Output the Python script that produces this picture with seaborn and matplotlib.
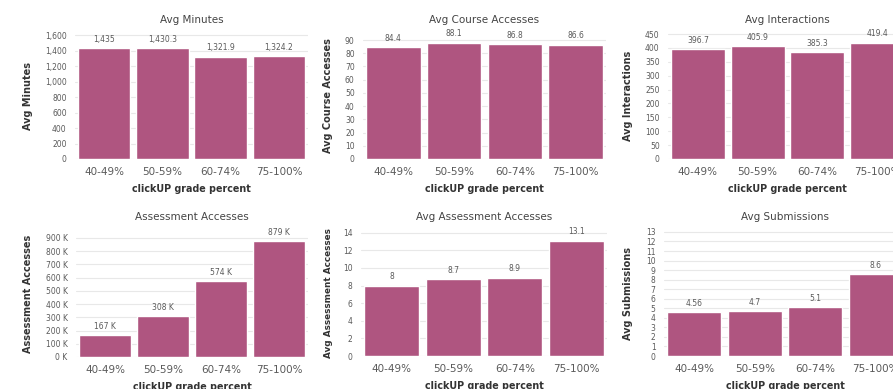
import matplotlib
matplotlib.use("Agg")
import matplotlib.pyplot as plt
import matplotlib.ticker as mticker
import numpy as np
import pandas as pd
import seaborn as sns

# Grade bands and the six engagement measures per band
grade_bands = ["40-49%", "50-59%", "60-74%", "75-100%"]
avg_minutes = [1435, 1430.3, 1321.9, 1324.2]
avg_course_accesses = [84.4, 88.1, 86.8, 86.6]
avg_interactions = [396.7, 405.9, 385.3, 419.4]
assessment_accesses = [167000, 308000, 574000, 879000]
avg_assessment_accesses = [8, 8.7, 8.9, 13.1]
avg_submissions = [4.56, 4.7, 5.1, 8.6]

sns.set_theme(style="white")
plt.rcParams["font.family"] = ["DejaVu Sans"]

BAR = "#AF5580"
TXT = "#5a5a5a"
GRID = "#e8e8e8"

W, H = 893, 389
fig = plt.figure(figsize=(W / 100, H / 100), dpi=100)
fig.patch.set_facecolor("white")


def num_label(v):
    return f"{v:,.2f}".rstrip("0").rstrip(".")


def k_label(v):
    return f"{v / 1000:.0f} K"


panels = [
    # title, values, ylabel, ticks, ymax, label fmt, tick fmt, box (l, t, r, b), ylabel x, ylabel size
    ("Avg Minutes", avg_minutes, "Avg Minutes", np.arange(0, 1601, 200), 1626,
     num_label, lambda v, p: f"{v:,.0f}", (75, 33, 308, 159), 33, 7.0),
    ("Avg Course Accesses", avg_course_accesses, "Avg Course Accesses", np.arange(0, 91, 10), 95.3,
     num_label, lambda v, p: f"{v:.0f}", (363, 33, 606, 159), 333, 7.0),
    ("Avg Interactions", avg_interactions, "Avg Interactions", np.arange(0, 451, 50), 453.6,
     num_label, lambda v, p: f"{v:.0f}", (668, 33, 907, 159), 633, 7.0),
    ("Assessment Accesses", assessment_accesses, "Assessment Accesses", np.arange(0, 900001, 100000), 960000,
     k_label, lambda v, p: f"{v / 1000:.0f} K", (76, 230, 308, 357), 33, 7.0),
    ("Avg Assessment Accesses", avg_assessment_accesses, "Avg Assessment Accesses", np.arange(0, 15, 2), 14.3,
     num_label, lambda v, p: f"{v:.0f}", (361, 230, 607, 356), 333, 6.4),
    ("Avg Submissions", avg_submissions, "Avg Submissions", np.arange(0, 14, 1), 13.2,
     num_label, lambda v, p: f"{v:.0f}", (664, 230, 906, 356), 633, 7.0),
]

for title, vals, ylab, ticks, ymax, lab_fmt, tick_fmt, box, ylab_x, ylab_size in panels:
    l, t, r, b = box
    ax = fig.add_axes([l / W, 1 - b / H, (r - l) / W, (b - t) / H])
    df = pd.DataFrame({"band": grade_bands, "value": vals})
    sns.barplot(data=df, x="band", y="value", color=BAR, saturation=1,
                width=0.9, ax=ax, zorder=3)
    ax.set_xlim(-0.5, 3.5)
    ax.set_ylim(0, ymax)
    ax.set_yticks(ticks)
    ax.yaxis.set_major_formatter(mticker.FuncFormatter(tick_fmt))
    ax.grid(axis="y", color=GRID, linewidth=0.8, zorder=0)
    ax.set_axisbelow(True)
    for s in ax.spines.values():
        s.set_visible(False)
    ax.tick_params(axis="y", labelsize=5.5, colors=TXT, length=0, pad=6)
    ax.tick_params(axis="x", labelsize=7.5, colors=TXT, length=0, pad=6)
    ax.set_title(title, fontsize=7.5, color="#444444", pad=7)
    ax.set_xlabel("clickUP grade percent", fontsize=6.9, fontweight="bold",
                  color="#333333", labelpad=5)
    ax.set_ylabel(ylab, fontsize=ylab_size, fontweight="bold", color="#333333")
    ax.yaxis.set_label_coords((ylab_x - l) / (r - l), 0.5)
    for i, v in enumerate(vals):
        ax.annotate(lab_fmt(v), (i, v), xytext=(0, 3), textcoords="offset points",
                    ha="center", va="bottom", fontsize=5.5, color=TXT)

fig.savefig("out.png", dpi=100, facecolor="white")
